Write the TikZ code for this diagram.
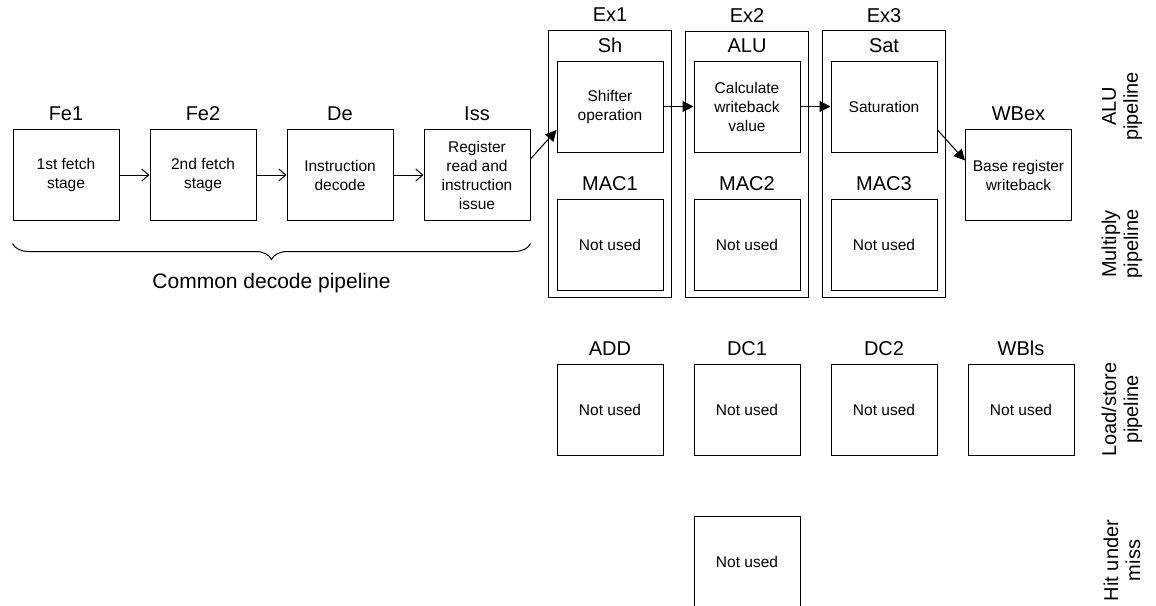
\documentclass[tikz,border=0pt]{standalone}
\usepackage{fontspec}
\setmainfont{Liberation Sans}
\usepackage{tikz}
\usetikzlibrary{positioning,fit,arrows.meta,decorations.pathreplacing}
\tikzstyle{stagebox} = [draw, line width=1pt, rectangle, minimum width=106pt,
    minimum height=91pt, inner sep=2pt, align=center,
    font=\fontsize{15.5}{19}\selectfont]
\tikzstyle{stagename} = [inner sep=0pt, font=\fontsize{20}{24}\selectfont]
\tikzstyle{exbox} = [draw, line width=1pt, rectangle, inner sep=8pt]
\tikzstyle{sidelabel} = [rotate=90, align=center, inner sep=0pt,
    font=\fontsize{20}{22}\selectfont]
\tikzstyle{flow} = [line width=1pt, -{Straight Barb[length=7pt,width=12pt]}]
\tikzstyle{bigflow} = [line width=1pt, -{Triangle[length=11pt,width=11pt]}]

\begin{document}
\begin{tikzpicture}[x=1pt,y=-1pt]
\useasboundingbox (0,0) rectangle (1156,605);
\clip (0,0) rectangle (1156,605);

% common decode pipeline
\node [stagebox] (fe1) at (66,175) {1st fetch\\stage};
\node [stagebox, right=30pt of fe1] (fe2) {2nd fetch\\stage};
\node [stagebox, right=30pt of fe2] (de) {Instruction\\decode};
\node [stagebox, right=30pt of de] (iss) {Register\\read and\\instruction\\issue};
\node [stagename, above=8pt of fe1] (fe1name) {Fe1};
\node [stagename, above=8pt of fe2] (fe2name) {Fe2};
\node [stagename, above=8pt of de] (dename) {De};
\node [stagename, above=8pt of iss] (issname) {Iss};

\draw [flow] (fe1) -- (fe2);
\draw [flow] (fe2) -- (de);
\draw [flow] (de) -- (iss);

\draw [line width=1pt, decorate, decoration={brace, mirror, amplitude=16pt}]
    ([yshift=-22.5pt]fe1.south west) -- ([yshift=-22.5pt]iss.south east)
    node [stagename, font=\fontsize{21}{25}\selectfont, midway, below=29pt] (common) {Common decode pipeline};

% execute stages
\node [stagebox] (sh) at (610,106.5) {Shifter\\operation};
\node [stagebox, right=30pt of sh] (alu) {Calculate\\writeback\\value};
\node [stagebox, right=30pt of alu] (sat) {Saturation};
\node [stagename, above=8pt of sh] (shname) {Sh};
\node [stagename, above=8pt of alu] (aluname) {ALU};
\node [stagename, above=8pt of sat] (satname) {Sat};

\node [stagebox, below=46pt of sh] (mac1) {Not used};
\node [stagebox, below=46pt of alu] (mac2) {Not used};
\node [stagebox, below=46pt of sat] (mac3) {Not used};
\node [stagename, above=8pt of mac1] (mac1name) {MAC1};
\node [stagename, above=8pt of mac2] (mac2name) {MAC2};
\node [stagename, above=8pt of mac3] (mac3name) {MAC3};

\node [exbox, inner ysep=7pt, fit=(shname) (sh) (mac1)] (ex1) {};
\node [exbox, inner ysep=7pt, fit=(aluname) (alu) (mac2)] (ex2) {};
\node [exbox, inner ysep=7pt, fit=(satname) (sat) (mac3)] (ex3) {};
\node [stagename, above=8pt of ex1] (ex1name) {Ex1};
\node [stagename, above=8pt of ex2] (ex2name) {Ex2};
\node [stagename, above=8pt of ex3] (ex3name) {Ex3};

\node [stagebox] (wbex) at (1018.5,175) {Base register\\writeback};
\node [stagename, above=8pt of wbex] (wbexname) {WBex};

\draw [bigflow] ([yshift=16pt]iss.east) -- ([yshift=-23.5pt]sh.west);
\draw [bigflow] (sh) -- (alu);
\draw [bigflow] (alu) -- (sat);
\draw [bigflow] ([yshift=-23.5pt]sat.east) -- ([yshift=14.5pt]wbex.west);

% load/store pipeline
\node [stagebox] (add) at (610,409.5) {Not used};
\node [stagebox, right=30pt of add] (dc1) {Not used};
\node [stagebox, right=30pt of dc1] (dc2) {Not used};
\node [stagebox, right=30pt of dc2] (wbls) {Not used};
\node [stagename, above=8pt of add] (addname) {ADD};
\node [stagename, above=8pt of dc1] (dc1name) {DC1};
\node [stagename, above=8pt of dc2] (dc2name) {DC2};
\node [stagename, above=8pt of wbls] (wblsname) {WBls};

% hit under miss
\node [stagebox, below=60pt of dc1] (hum) {Not used};

% pipeline names
\node [sidelabel] (alupipe) at (1122,106.5) {ALU\\pipeline};
\node [sidelabel] (mulpipe) at (1122,244) {Multiply\\pipeline};
\node [sidelabel] (lspipe) at (1122,409.5) {Load/store\\pipeline};
\node [sidelabel] (humpipe) at (1122,560.5) {Hit under\\miss};

\end{tikzpicture}
\end{document}
